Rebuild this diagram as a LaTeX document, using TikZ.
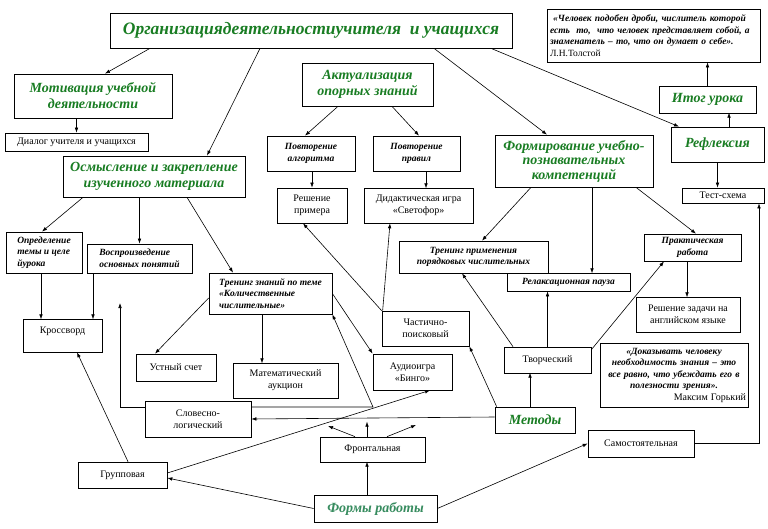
\documentclass[tikz,border=0pt]{standalone}
\usepackage{fontspec}
\setmainfont{Liberation Serif}
\usetikzlibrary{arrows.meta}
\definecolor{hgreen}{RGB}{25,125,35}
\definecolor{fgreen}{RGB}{55,140,95}
\begin{document}
\begin{tikzpicture}[x=1pt,y=-1pt,
 box/.style={draw=black, line width=0.7pt, inner sep=1pt, fill=white},
 hd/.style={box, font=\fontsize{14}{16}\selectfont\bfseries\itshape, text=hgreen, align=center},
 sm/.style={box, font=\fontsize{9.5}{11.5}\selectfont\bfseries\itshape},
 rg/.style={box, font=\fontsize{10}{12}\selectfont, align=center},
 arr/.style={line width=0.6pt, -{Latex[length=5pt,width=3.6pt]}},
 ln/.style={line width=0.6pt}]
\useasboundingbox (0,0) rectangle (768,529);
\fill[white] (0,0) rectangle (768,529);

\node[hd, minimum width=402pt, minimum height=35pt, font=\fontsize{17.5}{21}\selectfont\bfseries\itshape] (title) at (311,30.5) {Организациядеятельностиучителя\ \ и учащихся};
\node[hd, minimum width=158pt, minimum height=44pt] (motiv) at (93,96) {Мотивация учебной\\деятельности};
\node[rg, minimum width=143pt, minimum height=18pt] (dialog) at (76.5,142) {Диалог учителя и учащихся};
\node[hd, minimum width=182pt, minimum height=41pt] (osm) at (154,176.5) {Осмысление и закрепление\\изученного материала};
\node[hd, minimum width=131pt, minimum height=43pt] (aktual) at (367.5,84.5) {Актуализация\\опорных знаний};
\node[sm, align=center, minimum width=88pt, minimum height=35pt] (povalg) at (311,153.5) {Повторение\\алгоритма};
\node[sm, align=center, minimum width=87pt, minimum height=35pt] (povpr) at (416.5,153.5) {Повторение\\правил};
\node[rg, minimum width=70pt, minimum height=35pt] (resh) at (312,205.5) {Решение\\примера};
\node[rg, minimum width=109pt, minimum height=35pt] (didakt) at (418.5,205.5) {Дидактическая игра\\«Светофор»};
\node[hd, minimum width=158pt, minimum height=52pt, font=\fontsize{14}{14.5}\selectfont\bfseries\itshape] (form) at (574,161) {Формирование учебно-\\познавательных\\компетенций};
\node[hd, minimum width=93pt, minimum height=35pt] (refl) at (717.5,144.5) {Рефлексия};
\node[hd, minimum width=97pt, minimum height=27pt] (itog) at (707.5,99.5) {Итог урока};
\node[sm, align=left, text width=207pt, minimum width=213pt, minimum height=53pt] (tolst) at (653.5,35.5) {\ «Человек подобен дроби, числитель которой\\есть\ \ то,\ \ что человек представляет собой, а\\знаменатель – то, что он думает о себе».\\{\mdseries\upshape Л.Н.Толстой}};
\node[rg, minimum width=82pt, minimum height=15pt] (test) at (723,195.5) {Тест-схема};
\node[sm, align=left, minimum width=76pt, minimum height=41pt] (opred) at (44,252.5) {Определение\\темы и целе\\йурока};
\node[sm, align=left, minimum width=105pt, minimum height=29pt] (vospr) at (139.5,258.5) {Воспроизведение\\основных понятий};
\node[sm, align=left, minimum width=123pt, minimum height=41pt] (trenz) at (270.5,293.5) {Тренинг знаний по теме\\«Количественные\\числительные»};
\node[rg, minimum width=79pt, text height=13pt, text depth=18pt, inner ysep=1pt] (kross) at (62.5,335.5) {Кроссворд};
\node[sm, align=center, minimum width=149pt, minimum height=32pt] (trenp) at (473.5,257) {Тренинг применения\\порядковых числительных};
\node[sm, minimum width=123pt, minimum height=18pt] (relax) at (568.5,282) {Релаксационная пауза};
\node[sm, align=center, minimum width=97pt, minimum height=27pt] (prakt) at (692.5,247.5) {Практическая\\работа};
\node[rg, minimum width=104pt, minimum height=35pt] (reshz) at (688,314.5) {Решение задачи на\\английском языке};
\node[rg, minimum width=87pt, minimum height=35pt] (chast) at (425.5,328.5) {Частично-\\поисковый};
\node[rg, minimum width=87pt, minimum height=26pt] (tvor) at (547.5,360) {Творческий};
\node[sm, text width=144pt, minimum width=148pt, minimum height=64pt] (gorky) at (674,375) {\centering «Доказывать человеку\\необходимость знания – это\\все равно, что убеждать его в\\полезности зрения».\par\raggedleft{\mdseries\upshape\fontsize{10}{11}\selectfont Максим Горький}\par};
\node[rg, minimum width=80pt, minimum height=27pt] (ustn) at (176,367.5) {Устный счет};
\node[rg, minimum width=105pt, minimum height=35pt] (matem) at (285.5,380.5) {Математический\\аукцион};
\node[rg, minimum width=79pt, minimum height=36pt] (audio) at (412.5,372) {Аудиоигра\\«Бинго»};
\node[rg, minimum width=106pt, minimum height=36pt] (slov) at (198,419) {Словесно-\\логический};
\node[hd, minimum width=80pt, minimum height=26pt] (metody) at (535,420) {Методы};
\node[rg, minimum width=105pt, minimum height=25pt] (front) at (372.5,449.5) {Фронтальная};
\node[rg, minimum width=106pt, minimum height=27pt] (samost) at (641,443.5) {Самостоятельная};
\node[rg, minimum width=89pt, minimum height=26pt] (grupp) at (122.5,475) {Групповая};
\node[hd, text=fgreen, minimum width=123pt, minimum height=27pt] (formy) at (375.5,508.5) {Формы работы};

\coordinate (jn) at (373,407);
\coordinate (lcorner) at (120,407);
\coordinate (upend) at (120,303);
\coordinate (fa1) at (328,426);
\coordinate (fa3) at (416,425);

% title
\draw[arr] ([xshift=-161pt]title.south) -- ([xshift=12pt]motiv.north);
\draw[arr] ([xshift=-51pt]title.south) -- ([xshift=53pt]osm.north);
\draw[arr] ([xshift=123pt]title.south) -- ([xshift=-27pt]form.north);
\draw[arr] ([xshift=180pt]title.south) -- ([xshift=-38.5pt]refl.north);
\draw[arr] (dialog.north |- motiv.south) -- (dialog.north);
% aktualizacia
\draw[arr] ([xshift=-29.5pt]aktual.south) -- ([xshift=-6pt]povalg.north);
\draw[arr] ([xshift=24.5pt]aktual.south) -- ([xshift=2.5pt]povpr.north);
\draw[arr] (resh.north |- povalg.south) -- (resh.north);
\draw[arr] ([xshift=9.5pt]povpr.south) -- ++(0,17);
% right column
\draw[arr] (itog.north) -- (itog.north |- tolst.south);
\draw[arr] ([xshift=11.5pt]refl.north) -- ++(0,-14);
\draw[arr] (refl.south) -- (refl.south |- test.north);
% osmyslenie
\draw[arr] ([xshift=-71pt]osm.south) -- ([xshift=-2pt]opred.north);
\draw[arr] (vospr.north |- osm.south) -- (vospr.north);
\draw[arr] ([xshift=33pt]osm.south) -- ([xshift=-37.5pt]trenz.north);
\draw[arr] ([xshift=-3pt]opred.south) -- ++(0,46);
\draw[arr] ([xshift=-46.5pt]vospr.south) -- ++(0,46);
\draw[arr] ([yshift=-4.5pt]trenz.west) -- ([xshift=-21pt]ustn.north);
\draw[arr] ([xshift=-8.5pt]trenz.south) -- ++(0,49);
\draw[arr] (trenz.east) -- (audio.north west);
% formirovanie
\draw[arr] ([xshift=-43pt]form.south) -- ([xshift=8.5pt]trenp.north);
\draw[arr] ([xshift=18pt]form.south) -- ++(0,86);
\draw[arr] ([xshift=62pt]form.south) -- ([xshift=3.5pt]prakt.north);
\draw[arr] ([xshift=-5.5pt]prakt.south) -- ++(0,36);
% metody
\draw[arr] ([xshift=-5pt]metody.north) -- ++(0,-34);
\draw[arr] ([xshift=-34.5pt]tvor.north) -- ([xshift=-11.5pt]trenp.south);
\draw[arr] (tvor.north) -- (tvor.north |- relax.south);
\draw[arr] ([yshift=-3pt]tvor.north east) -- ([xshift=-28.5pt]prakt.south);
\draw[arr] ([xshift=2pt]metody.north west) -- (chast.south east);
\draw[arr] (chast.north west) -- ([xshift=-9pt]resh.south);
\draw[arr] ([xshift=1pt]chast.north west) -- ([xshift=-28.5pt]didakt.south);
\draw[arr] ([yshift=3pt]metody.west) -- (slov.east);
\draw[arr] ([yshift=12pt]slov.east) -- (jn) -- (trenz.south east);
\draw[arr] ([yshift=12pt]slov.west) -- (lcorner) -- (upend);
% formy raboty
\draw[arr] ([yshift=2pt]grupp.east) -- ([xshift=17.5pt]audio.south);
\draw[arr] (formy.west) -- ([yshift=-3pt]grupp.east);
\draw[arr] ([xshift=-8.5pt]formy.north) -- ++(0,-33);
\draw[arr] (formy.east) -- (samost.west);
\draw[arr] (samost.east) -| ([xshift=36pt]test.south);
\draw[arr] ([xshift=5.5pt]grupp.north) -- ([xshift=14.5pt]kross.south);
\draw[arr] ([xshift=-17.5pt]front.north) -- (fa1);
\draw[arr] ([xshift=-5.5pt]front.north) -- ++(0,-15);
\draw[arr] ([xshift=14.5pt]front.north) -- (fa3);
\end{tikzpicture}
\end{document}
